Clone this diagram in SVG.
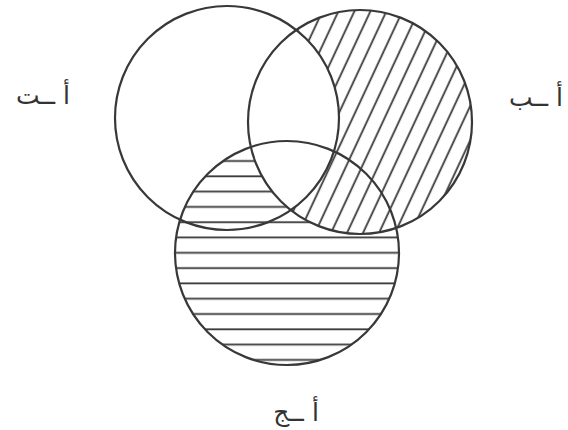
<svg xmlns="http://www.w3.org/2000/svg" width="568" height="430" viewBox="0 0 568 430">
<style>
.c{fill:none;stroke:#383838;stroke-width:2.2}
.h{stroke:#383838;stroke-width:1.8}
.lbl{font-family:"DejaVu Sans","Noto Sans",sans-serif;font-size:25px;fill:#333;text-anchor:middle}
</style>
<defs>
<pattern id="diag" patternUnits="userSpaceOnUse" width="14.5" height="20" patternTransform="rotate(25)">
<line class="h" x1="7" y1="-5" x2="7" y2="25"/>
</pattern>
<pattern id="horiz" patternUnits="userSpaceOnUse" width="20" height="15.3" y="1">
<line class="h" x1="-5" y1="7" x2="25" y2="7"/>
</pattern>
<mask id="mRight">
<rect x="0" y="0" width="568" height="430" fill="black"/>
<circle cx="360" cy="122" r="112" fill="white"/>
<circle cx="227" cy="118" r="112" fill="black"/>
</mask>
<mask id="mBottom">
<rect x="0" y="0" width="568" height="430" fill="black"/>
<circle cx="287" cy="253" r="112" fill="white"/>
<circle cx="360" cy="122" r="112" fill="black"/>
</mask>
</defs>
<rect width="568" height="430" fill="#fff"/>
<g id="hatching">
<rect x="0" y="0" width="568" height="430" fill="url(#diag)" mask="url(#mRight)"/>
<rect x="0" y="0" width="568" height="430" fill="url(#horiz)" mask="url(#mBottom)"/>
</g>
<g id="set-a-t"><circle class="c" cx="227" cy="118" r="112"/></g>
<g id="set-a-b"><circle class="c" cx="360" cy="122" r="112"/></g>
<g id="set-a-j"><circle class="c" cx="287" cy="253" r="112"/></g>
<g id="label-a-t"><text class="lbl" x="43" y="104">أ ــت</text></g>
<g id="label-a-b"><text class="lbl" x="536" y="106">أ ــب</text></g>
<g id="label-a-j"><text class="lbl" x="296" y="421">أ ــج</text></g>
</svg>
